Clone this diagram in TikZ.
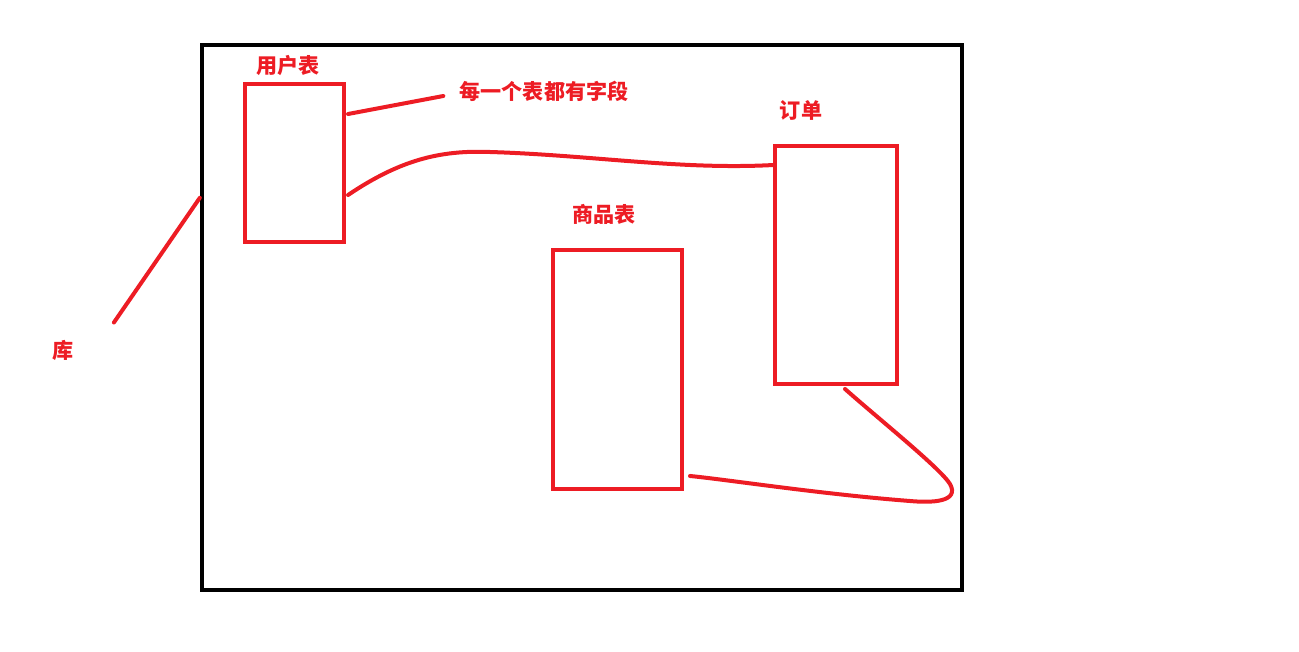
\documentclass[tikz,border=0pt]{standalone}
\usepackage{fontspec}
\newfontfamily\cjk{Noto Sans CJK SC}
\usetikzlibrary{calc}
\definecolor{paintred}{HTML}{ED1C24}

\tikzset{
    tablebox/.style={draw=paintred, line width=0.08cm, inner sep=0pt},
    redlabel/.style={text=paintred, font=\cjk\bfseries\fontsize{12pt}{13pt}\selectfont, inner sep=0pt},
    linkline/.style={draw=paintred, line width=0.08cm, line cap=round}
}

\begin{document}
\begin{tikzpicture}[x=0.02cm, y=-0.02cm]

    \useasboundingbox (0,0) rectangle (1299,652);

    % Database frame
    \node[draw, line width=0.09cm, inner sep=0pt, minimum width=15.2cm, minimum height=10.9cm] (db) at (582,317.5) {};

    % Tables
    \node[tablebox, minimum width=1.98cm, minimum height=3.16cm] (user) at (294.5,163) {};
    \node[tablebox, minimum width=2.58cm, minimum height=4.78cm] (goods) at (617.5,369.5) {};
    \node[tablebox, minimum width=2.44cm, minimum height=4.76cm] (order) at (836,265) {};

    % Labels
    \node[redlabel] (userlbl) at (288,66) {用户表};
    \node[redlabel] (fieldlbl) at (544,91) {每一个表都有字段};
    \node[redlabel] (orderlbl) at (801,110) {订单};
    \node[redlabel] (goodslbl) at (604,214) {商品表};
    \node[redlabel] (dblbl) at (63,350) {库};

    % Links
    \coordinate (dbtip) at ($(dblbl.north east)+(40,-17)$);
    \draw[linkline] ($(db.north west)+(0,155)$) -- (dbtip);
    \draw[linkline] ($(user.north east)+(2,32)$) -- ($(fieldlbl.west)+(-16,5)$);
    \draw[linkline] ($(user.north east)+(2,113)$) .. controls (400,160) and (440,150) .. (490,152)
        .. controls (590,155) and (680,170) .. ($(order.north west)+(0,21)$);
    \draw[linkline] ($(order.south)+(9,3)$) .. controls (880,420) and (940,468) .. (950,484)
        .. controls (960,502) and (932,503) .. (910,501)
        .. controls (820,494) and (730,480) .. ($(goods.south east)+(6,-15)$);

\end{tikzpicture}
\end{document}
